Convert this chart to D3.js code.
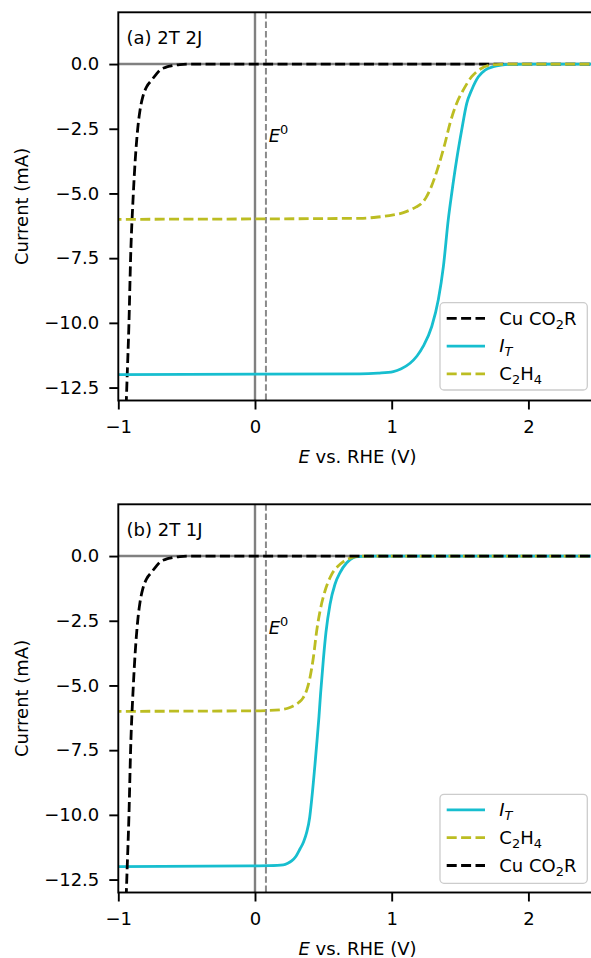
<!DOCTYPE html>
<html><head><meta charset="utf-8">
<script src="https://cdn.jsdelivr.net/npm/d3@7"></script>
<style>
body{margin:0;background:#fff}
text{font-family:"DejaVu Sans",sans-serif;fill:#000}
</style></head>
<body>
<svg id="chart" width="591" height="958"></svg>
<script>
// ---------------- data ----------------
const xTicks = [-1, 0, 1, 2];
const yTicks = [0, -2.5, -5, -7.5, -10, -12.5];
const E0 = 0.08;
const panelLabels = ["(a) 2T 2J", "(b) 2T 1J"];

// Cu CO2R (same in both panels)
const cuE = [-0.96, -0.938, -0.922, -0.91, -0.89, -0.858, -0.841, -0.82, -0.793, -0.756, -0.72, -0.695, -0.65, -0.622, -0.55, -0.45, 2.6];
const cuI = [-16, -12.5, -10, -7.5, -5, -2.5, -1.78, -1.25, -0.88, -0.62, -0.38, -0.23, -0.12, -0.08, -0.02, 0, 0];

// panel (a)
const itE_a = [-1.05, 0.768, 0.9, 1.012, 1.07, 1.134, 1.185, 1.231, 1.293, 1.341, 1.378, 1.414, 1.439, 1.475, 1.512, 1.549, 1.585, 1.634, 1.683, 1.743, 1.8, 1.88, 2.0, 2.6];
const itI_a = [-12, -11.97, -11.94, -11.88, -11.77, -11.56, -11.28, -10.9, -10.14, -9.11, -7.83, -6.0, -5.0, -3.7, -2.55, -1.52, -1.0, -0.49, -0.23, -0.1, -0.04, -0.01, 0, 0];
const c2E_a = [-1.05, 0.768, 0.9, 1.012, 1.08, 1.134, 1.18, 1.219, 1.25, 1.28, 1.341, 1.39, 1.426, 1.475, 1.524, 1.585, 1.646, 1.72, 1.8, 1.9, 2.6];
const c2I_a = [-6, -5.96, -5.91, -5.83, -5.75, -5.64, -5.52, -5.38, -5.17, -4.86, -3.96, -3.06, -2.3, -1.52, -1.0, -0.49, -0.2, -0.04, -0.01, 0, 0];

// panel (b)
const itE_b = [-1.05, -0.037, 0.1, 0.207, 0.24, 0.268, 0.3, 0.329, 0.355, 0.378, 0.4, 0.415, 0.451, 0.468, 0.48, 0.5, 0.519, 0.549, 0.585, 0.622, 0.671, 0.719, 0.76, 0.82, 2.6];
const itI_b = [-12, -11.97, -11.96, -11.93, -11.87, -11.78, -11.6, -11.32, -11.05, -10.68, -10.1, -9.39, -7.3, -6.2, -5.3, -4.0, -2.95, -1.86, -1.09, -0.64, -0.26, -0.06, -0.02, 0, 0];
const c2E_b = [-1.05, 0.0, 0.183, 0.24, 0.28, 0.32, 0.353, 0.38, 0.402, 0.427, 0.451, 0.476, 0.512, 0.561, 0.622, 0.695, 0.74, 0.8, 2.6];
const c2I_b = [-6, -5.98, -5.94, -5.88, -5.79, -5.66, -5.47, -5.15, -4.7, -3.92, -2.9, -2.12, -1.35, -0.71, -0.32, -0.08, -0.02, 0, 0];

const legendOrder_a = ["cu", "it", "c2"];
const legendOrder_b = ["it", "c2", "cu"];

// ---------------- styles ----------------
const styles = {
  cu: {color: "#000000", dash: "10,4.4", label: [{t: "Cu CO"}, {t: "2", sub: true}, {t: "R"}]},
  it: {color: "#17becf", dash: null, label: [{t: "I", it: true}, {t: "T", sub: true, it: true}]},
  c2: {color: "#bcbd22", dash: "10,4.4", label: [{t: "C"}, {t: "2", sub: true}, {t: "H"}, {t: "4", sub: true}]}
};
const FS = 18;
const LW = 2.8;

const svg = d3.select("#chart");
const x = d3.scaleLinear().domain([-1, 2.5]).range([118.3, 596.75]);

function zip(a, b) { return a.map((v, i) => [v, b[i]]); }

function rich(sel, parts, fs) {
  let acc = 0;
  parts.forEach(p => {
    const ts = sel.append("tspan").text(p.t);
    let target = 0;
    if (p.it) ts.attr("font-style", "italic");
    if (p.sub) { ts.attr("font-size", fs * 0.72); target = fs * 0.22; }
    else if (p.sup) { ts.attr("font-size", fs * 0.72); target = -fs * 0.42; }
    ts.attr("dy", target - acc);
    acc = target;
  });
}

function drawPanel(idx, top, series, legendOrder, legBox) {
  const h = 388.2;
  const y = d3.scaleLinear().domain([-13, 2]).range([top + h, top]);
  const g = svg.append("g");
  const cid = "clip" + idx;
  svg.append("clipPath").attr("id", cid).append("rect")
    .attr("x", x(-1)).attr("y", top).attr("width", x(2.5) - x(-1)).attr("height", h);
  const pg = g.append("g").attr("clip-path", `url(#${cid})`);

  // reference lines
  pg.append("line").attr("x1", x(-1)).attr("x2", x(2.5)).attr("y1", y(0)).attr("y2", y(0))
    .attr("stroke", "#808080").attr("stroke-width", 2.4);
  pg.append("line").attr("x1", x(0)).attr("x2", x(0)).attr("y1", top).attr("y2", top + h)
    .attr("stroke", "#808080").attr("stroke-width", 2.4);
  pg.append("line").attr("x1", x(E0)).attr("x2", x(E0)).attr("y1", top).attr("y2", top + h)
    .attr("stroke", "#8a8a8a").attr("stroke-width", 2).attr("stroke-dasharray", "6.5,2.8");

  const line = d3.line().x(d => x(d[0])).y(d => y(d[1])).curve(d3.curveMonotoneX);
  series.forEach(s => {
    const st = styles[s.key];
    pg.append("path").datum(zip(s.E, s.I)).attr("d", line)
      .attr("fill", "none").attr("stroke", st.color).attr("stroke-width", LW)
      .attr("stroke-dasharray", st.dash);
  });

  // E0 label
  const et = g.append("text").attr("x", x(E0 + 0.02)).attr("y", y(-3)).attr("font-size", FS);
  rich(et, [{t: "E", it: true}, {t: "0", sup: true}], FS);

  // panel label
  g.append("text").attr("x", 126.5).attr("y", top + 31.3).attr("font-size", FS).text(panelLabels[idx]);

  // axes
  const ax = g.append("g").attr("transform", `translate(${x(-1)},0)`)
    .call(d3.axisLeft(y).tickValues(yTicks).tickFormat(d3.format(".1f")).tickSize(9).tickPadding(10).tickSizeOuter(0));
  const bx = g.append("g").attr("transform", `translate(0,${top + h})`)
    .call(d3.axisBottom(x).tickValues(xTicks).tickFormat(d3.format("d")).tickSize(9).tickPadding(11).tickSizeOuter(0));
  [ax, bx].forEach(a => {
    a.select(".domain").remove();
    a.selectAll("line").attr("stroke", "#000").attr("stroke-width", 1.9);
    a.selectAll("text").attr("font-size", FS).attr("font-family", "DejaVu Sans").attr("fill", "#000");
  });
  g.append("rect").attr("x", x(-1)).attr("y", top).attr("width", x(2.5) - x(-1)).attr("height", h)
    .attr("fill", "none").attr("stroke", "#000").attr("stroke-width", 1.9);

  // axis labels
  const xl = g.append("text").attr("x", 357.5).attr("y", top + h + 62.5).attr("font-size", FS).attr("text-anchor", "middle");
  rich(xl, [{t: "E", it: true}, {t: " vs. RHE (V)"}], FS);
  g.append("text").attr("transform", `translate(28,${top + h / 2}) rotate(-90)`)
    .attr("font-size", FS).attr("text-anchor", "middle").text("Current (mA)");

  // legend
  const lg = g.append("g");
  lg.append("rect").attr("x", legBox.x).attr("y", legBox.y).attr("width", legBox.w).attr("height", legBox.h)
    .attr("rx", 4).attr("fill", "#fff").attr("fill-opacity", 0.8).attr("stroke", "#cccccc").attr("stroke-width", 1.3);
  legendOrder.forEach((k, i) => {
    const st = styles[k];
    const cy = legBox.y + 15.6 + i * 27.8;
    lg.append("line").attr("x1", legBox.x + 6.7).attr("x2", legBox.x + 45).attr("y1", cy).attr("y2", cy)
      .attr("stroke", st.color).attr("stroke-width", LW).attr("stroke-dasharray", st.dash);
    const t = lg.append("text").attr("x", legBox.x + 59.3).attr("y", cy + 6.3).attr("font-size", FS);
    rich(t, st.label, FS);
  });
}

drawPanel(0, 12.3, [
  {key: "cu", E: cuE, I: cuI},
  {key: "it", E: itE_a, I: itI_a},
  {key: "c2", E: c2E_a, I: c2I_a}
], legendOrder_a, {x: 440, y: 302.7, w: 147.3, h: 87.3});

drawPanel(1, 504.3, [
  {key: "it", E: itE_b, I: itI_b},
  {key: "c2", E: c2E_b, I: c2I_b},
  {key: "cu", E: cuE, I: cuI}
], legendOrder_b, {x: 440, y: 794.3, w: 147.3, h: 89});
</script>
</body></html>
